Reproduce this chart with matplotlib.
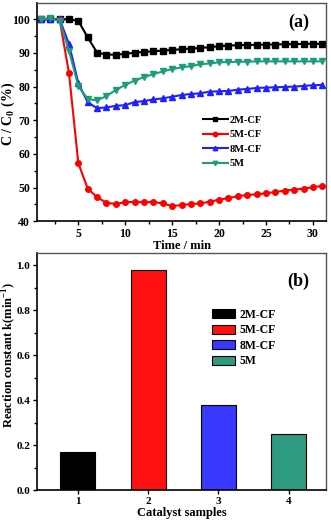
import numpy as np
import matplotlib
matplotlib.use('Agg')
import matplotlib.pyplot as plt
from matplotlib.ticker import MultipleLocator

plt.rcParams['font.family'] = 'Liberation Serif'
plt.rcParams['font.weight'] = 'bold'
plt.rcParams['mathtext.fontset'] = 'custom'
plt.rcParams['mathtext.rm'] = 'Liberation Serif:bold'
plt.rcParams['mathtext.bf'] = 'Liberation Serif:bold'

# === (a) C/C0 vs time ===
time = list(range(1, 32))
cf2m = [100, 100, 100, 100, 99.5, 94.6, 90.1, 89.5, 89.5, 89.7, 90.1, 90.3, 90.5, 90.7, 90.9,
        91.1, 91.3, 91.5, 91.7, 92.0, 92.2, 92.3, 92.4, 92.4, 92.5, 92.5, 92.6, 92.6, 92.7, 92.7, 92.7]
cf5m = [100, 100, 100, 84.0, 57.2, 49.7, 47.1, 45.5, 45.1, 45.7, 45.7, 45.7, 45.7, 45.3, 44.5,
        44.8, 45.1, 45.3, 45.8, 46.4, 46.9, 47.4, 47.8, 48.0, 48.3, 48.7, 49.1, 49.4, 49.7, 50.1, 50.5]
cf8m = [100, 100, 100, 92.7, 81.0, 75.3, 73.6, 73.8, 74.3, 74.5, 75.4, 75.7, 76.2, 76.5, 77.0,
        77.5, 77.8, 78.0, 78.5, 78.6, 78.7, 79.1, 79.3, 79.6, 79.7, 79.8, 79.9, 80.0, 80.2, 80.4, 80.5]
m5 = [100, 100.3, 99.5, 90.7, 80.1, 76.3, 75.9, 77.2, 79.0, 80.5, 81.8, 82.8, 83.7, 84.5, 85.2,
      85.7, 86.1, 86.6, 86.9, 87.2, 87.3, 87.4, 87.4, 87.5, 87.5, 87.5, 87.5, 87.5, 87.5, 87.5, 87.5]

# === (b) rate constants ===
samples = [1, 2, 3, 4]
k_vals = [0.17, 0.98, 0.38, 0.25]
labels = ['2M-CF', '5M-CF', '8M-CF', '5M']

line_colors = ['black', '#ff0000', '#2020ff', '#1a9e7a']
bar_colors = ['black', '#ff1010', '#3838ff', '#2e9a80']

fig = plt.figure(figsize=(3.31, 5.23), dpi=100)
ax1 = fig.add_axes([0.112, 0.577, 0.873, 0.417])
ax2 = fig.add_axes([0.112, 0.063, 0.873, 0.453])

series = [cf2m, cf5m, cf8m, m5]
markers = ['s', 'o', '^', 'v']
for y, c, m, lab in zip(series, line_colors, markers, labels):
    ax1.plot(time, y, color=c, marker=m, markersize=4, linewidth=1.5, label=lab)

ax1.set_xlim(0.6, 31.4)
ax1.set_ylim(40, 104.8)
ax1.xaxis.set_major_locator(MultipleLocator(5))
ax1.xaxis.set_minor_locator(MultipleLocator(2.5))
ax1.yaxis.set_major_locator(MultipleLocator(10))
ax1.yaxis.set_minor_locator(MultipleLocator(5))
ax1.set_xlabel('Time / min', fontsize=9, fontweight='bold', labelpad=0)
ax1.set_ylabel('C / C$_0$ (%)', fontsize=10, fontweight='bold', va='center')
ax1.yaxis.set_label_coords(-0.098, 0.49)
ax1.text(0.905, 0.913, '(a)', transform=ax1.transAxes, fontsize=13, fontweight='bold',
         ha='center', va='center')
ax1.legend(loc='upper left', bbox_to_anchor=(0.57, 0.49), frameon=False, fontsize=7.5,
           handlelength=2.4, markerscale=0.8, labelspacing=0.5, handletextpad=0.2,
           borderpad=0.1, borderaxespad=0)

ax2.bar(samples, k_vals, width=0.5, color=bar_colors, edgecolor='black', linewidth=0.8,
        label=labels)
ax2.set_xlim(0.42, 4.53)
ax2.set_ylim(0, 1.055)
ax2.set_xticks(samples)
ax2.yaxis.set_major_locator(MultipleLocator(0.2))
ax2.yaxis.set_minor_locator(MultipleLocator(0.1))
ax2.set_xlabel('Catalyst samples', fontsize=9, fontweight='bold', labelpad=1)
ax2.set_ylabel('Reaction constant k(min$^{-1}$)', fontsize=9, fontweight='bold', va='center')
ax2.yaxis.set_label_coords(-0.098, 0.57)
ax2.text(0.905, 0.88, '(b)', transform=ax2.transAxes, fontsize=13, fontweight='bold',
         ha='center', va='center')
ax2.legend(loc='upper left', bbox_to_anchor=(0.6, 0.77), frameon=False, fontsize=8.5,
           handlelength=2.0, handleheight=0.8, labelspacing=0.3, handletextpad=0.4,
           borderpad=0.1, borderaxespad=0)

for ax, ls in ((ax1, 8.5), (ax2, 8)):
    ax.tick_params(which='both', direction='out', labelsize=ls, width=1, pad=2)
    ax.tick_params(which='major', length=3)
    ax.tick_params(which='minor', length=2)
    ax.tick_params(axis='x', which='both', top=False)
    ax.tick_params(axis='y', which='both', right=False)
    for s in ('left', 'bottom'):
        ax.spines[s].set_linewidth(1.2)
    for s in ('top', 'right'):
        ax.spines[s].set_color('#555555')
        ax.spines[s].set_linewidth(1.0)
    for t in ax.get_xticklabels() + ax.get_yticklabels():
        t.set_fontweight('bold')

fig.savefig('out.png', dpi=100)
